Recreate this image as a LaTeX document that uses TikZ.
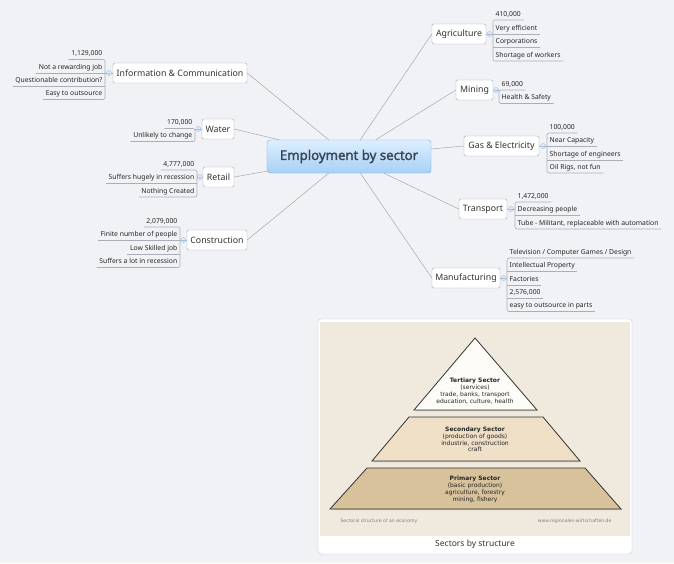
\documentclass[tikz,border=0pt]{standalone}
\usepackage{fontspec}
\setmainfont{Noto Sans}
\newfontfamily\pyrfont{DejaVu Sans}
\newfontfamily\hubfont{Open Sans}[AutoFakeBold=2.5]
\usetikzlibrary{calc,shadows}

\definecolor{paper}{HTML}{F1F2F6}
\definecolor{hubtop}{HTML}{DDEFFE}
\definecolor{hubbot}{HTML}{A6D0F7}
\definecolor{hubedge}{HTML}{7FA8D5}
\definecolor{hubtext}{HTML}{3A4655}
\definecolor{topicedge}{HTML}{A3A8B0}
\definecolor{leafgray}{HTML}{A9AEB7}
\definecolor{linkgray}{HTML}{A9A9A9}
\definecolor{knobedge}{HTML}{9DB9D8}
\definecolor{knobfill}{HTML}{E2ECF7}
\definecolor{panel}{HTML}{EFEADD}
\definecolor{tierA}{HTML}{FEFCF7}
\definecolor{tierB}{HTML}{EEDFC6}
\definecolor{tierC}{HTML}{D8C29B}

\tikzset{
  hub/.style={draw=hubedge, rounded corners=3pt, top color=hubtop, bottom color=hubbot,
    minimum width=164, minimum height=33, text=hubtext, font=\hubfont\bfseries\fontsize{13.3}{15}\selectfont},
  topic/.style={draw=topicedge, fill=white, rounded corners=2pt, minimum height=20,
    inner xsep=3pt, text=black!80, font=\fontsize{8.8}{10}\selectfont},
  leaf/.style={inner xsep=2.5pt, inner ysep=2pt, text height=5pt, text depth=1.4pt,
    text=black!85, font=\fontsize{6.8}{7.5}\selectfont},
  leafR/.style={leaf, anchor=south west},
  leafL/.style={leaf, anchor=south east},
  leafline/.style={draw=leafgray, line width=0.6pt},
  link/.style={draw=linkgray, line width=0.5pt},
  knob/.style={circle, draw=knobedge, fill=knobfill, minimum size=5pt, inner sep=0pt, line width=0.4pt,
    path picture={\draw[knobedge, line width=0.4pt] ([xshift=-1.4pt]path picture bounding box.center)
      -- ([xshift=1.4pt]path picture bounding box.center);}},
  tier/.style={draw=black!80, line width=0.8pt,
    drop shadow={opacity=0.35, shadow xshift=1.2pt, shadow yshift=-1.2pt}},
  tiertext/.style={align=center, text=black!85, font=\pyrfont\fontsize{6}{6.8}\selectfont},
}

\begin{document}
\begin{tikzpicture}[x=1pt,y=-1pt]
\useasboundingbox (0,0) rectangle (674,563);
\fill[paper] (0,0) rectangle (674,563);

% central topic and main branches
\node[hub] (hub) at (349,156.5) {Employment by sector};

\node[topic, minimum width=54] (agri) at (459,34) {Agriculture};
\node[topic, minimum width=37] (mine) at (474.5,90) {Mining};
\node[topic, minimum width=75] (gas) at (501.5,146) {Gas \& Electricity};
\node[topic, minimum width=48] (trans) at (483,209) {Transport};
\node[topic, minimum width=68] (manu) at (466,278) {Manufacturing};
\node[topic, minimum width=134] (info) at (180,73) {Information \& Communication};
\node[topic, minimum width=32] (water) at (218,129) {Water};
\node[topic, minimum width=31] (retail) at (218.5,177) {Retail};
\node[topic, minimum width=60] (cons) at (217,240) {Construction};

\foreach \t in {agri,mine,gas,trans,manu}
  \draw[link] (hub) -- (\t.west);
\foreach \t in {info,water,retail,cons}
  \draw[link] (hub) -- (\t.east);

% right hand details
\node[leafR] (agri1) at (493,20) {410,000};
\node[leafR] (agri2) at (493,34) {Very efficient};
\node[leafR] (agri3) at (493,47) {Corporations};
\node[leafR] (agri4) at (493,61) {Shortage of workers};

\node[leafR] (mine1) at (499,90) {69,000};
\node[leafR] (mine2) at (499,103.5) {Health \& Safety};

\node[leafR] (gas1) at (547,133) {100,000};
\node[leafR] (gas2) at (547,146) {Near Capacity};
\node[leafR] (gas3) at (547,160) {Shortage of engineers};
\node[leafR] (gas4) at (547,173) {Oil Rigs, not fun};

\node[leafR] (trans1) at (515,202) {1,472,000};
\node[leafR] (trans2) at (515,215.5) {Decreasing people};
\node[leafR] (trans3) at (515,229) {Tube - Militant, replaceable with automation};

\node[leafR] (manu1) at (507,258) {Television / Computer Games / Design};
\node[leafR] (manu2) at (507,271.5) {Intellectual Property};
\node[leafR] (manu3) at (507,285) {Factories};
\node[leafR] (manu4) at (507,298) {2,576,000};
\node[leafR] (manu5) at (507,311.5) {easy to outsource in parts};

% left hand details
\node[leafL] (info1) at (105,59.5) {1,129,000};
\node[leafL] (info2) at (105,73) {Not a rewarding job};
\node[leafL] (info3) at (105,86) {Questionable contribution?};
\node[leafL] (info4) at (105,99.5) {Easy to outsource};

\node[leafL] (water1) at (195,128.5) {170,000};
\node[leafL] (water2) at (195,141.5) {Unlikely to change};

\node[leafL] (retail1) at (197,170) {4,777,000};
\node[leafL] (retail2) at (197,183.5) {Suffers hugely in recession};
\node[leafL] (retail3) at (197,197) {Nothing Created};

\node[leafL] (cons1) at (180,227) {2,079,000};
\node[leafL] (cons2) at (180,240.5) {Finite number of people};
\node[leafL] (cons3) at (180,254) {Low Skilled job};
\node[leafL] (cons4) at (180,267.5) {Suffers a lot in recession};

\foreach \n in {agri2,agri3,gas2,gas3,trans2,manu2,manu3,manu4,info2,info3,retail2,cons2,cons3}
  \draw[leafline] (\n.south west) -- (\n.south east);
\foreach \a/\b in {agri1/agri4,mine1/mine2,gas1/gas4,trans1/trans3,manu1/manu5}
  \draw[leafline, rounded corners=2pt] (\a.south east) -- (\a.south west) -- (\b.south west) -- (\b.south east);
\foreach \a/\b in {info1/info4,water1/water2,retail1/retail3,cons1/cons4}
  \draw[leafline, rounded corners=2pt] (\a.south west) -- (\a.south east) -- (\b.south east) -- (\b.south west);

\foreach \t/\a in {agri/agri1,mine/mine1,gas/gas1,trans/trans1,manu/manu1} {
  \draw[leafline] (\t.east) -- (\t.east -| \a.south west);
  \node[knob] at ($(\t.east)!0.5!(\t.east -| \a.south west)$) {};
}
\foreach \t/\a in {info/info1,water/water1,retail/retail1,cons/cons1} {
  \draw[leafline] (\t.west) -- (\t.west -| \a.south east);
  \node[knob] at ($(\t.west)!0.5!(\t.west -| \a.south east)$) {};
}

% picture of the sectors
\draw[draw=black!22, fill=white, rounded corners=3pt] (318,319) rectangle (632,554);
\fill[panel] (320,322) rectangle (630,536);

\filldraw[tier, fill=tierC] (367,468) -- (585,468) -- (621,509) -- (330,509) -- cycle;
\filldraw[tier, fill=tierB] (409,417) -- (543,417) -- (580,461) -- (372,461) -- cycle;
\filldraw[tier, fill=tierA] (475,338) -- (537,410) -- (414,410) -- cycle;

\node[tiertext] (tertiary) at (475,391) {\textbf{Tertiary Sector}\\(services)\\trade, banks, transport\\education, culture, health};
\node[tiertext] (secondary) at (475,439.5) {\textbf{Secondary Sector}\\(production of goods)\\industrie, construction\\craft};
\node[tiertext] (primary) at (475,489.5) {\textbf{Primary Sector}\\(basic production)\\agriculture, forestry\\mining, fishery};

\node[anchor=west, text=black!50, font=\pyrfont\fontsize{4.6}{5}\selectfont] (source) at (337,521) {Sectoral structure of an economy};
\node[anchor=east, text=black!50, font=\pyrfont\fontsize{4.6}{5}\selectfont] (site) at (615,521) {www.regionales-wirtschaften.de};
\node[text=black!80, font=\fontsize{8.5}{10}\selectfont] (caption) at (475,544.5) {Sectors by structure};
\end{tikzpicture}
\end{document}
